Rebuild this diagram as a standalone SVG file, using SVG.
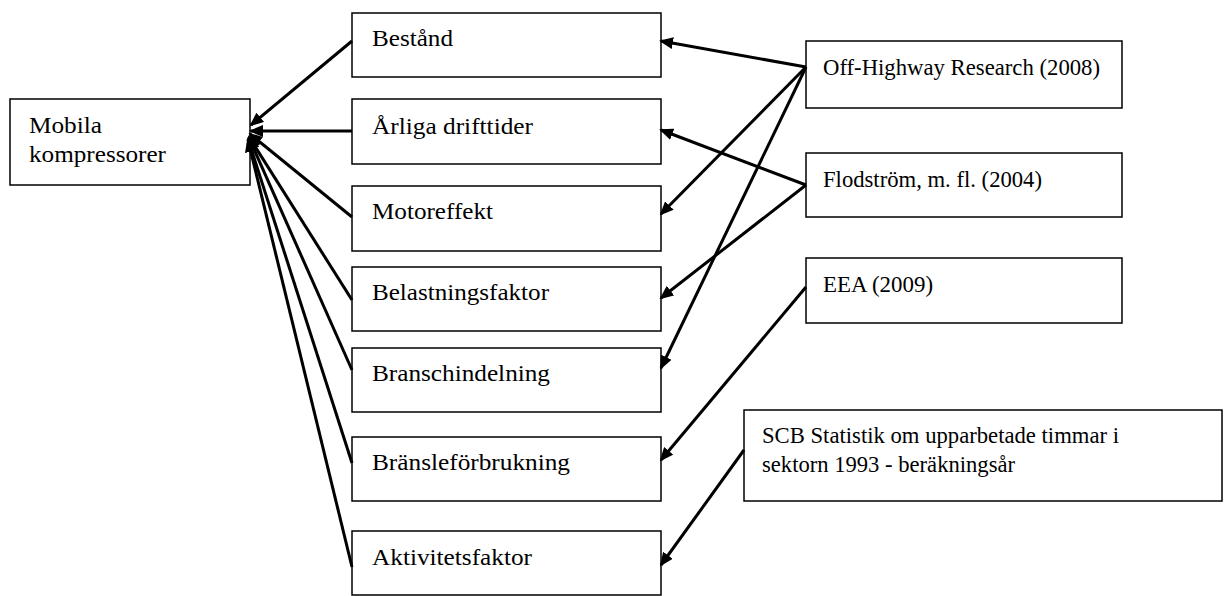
<svg xmlns="http://www.w3.org/2000/svg" width="1224" height="596" viewBox="0 0 1224 596">
  <style>
    .box { fill: #fff; stroke: #000; stroke-width: 1.5; }
    .lbl { font-family: "Liberation Serif", "Times New Roman", serif; font-size: 24px; fill: #000; }
    .link { stroke: #000; stroke-width: 3; fill: none; marker-end: url(#head); }
  </style>
  <defs>
    <marker id="head" markerUnits="userSpaceOnUse" markerWidth="14" markerHeight="12" refX="12" refY="6" orient="auto">
      <path d="M0,0 L14,6 L0,12 z" fill="#000"/>
    </marker>
  </defs>

  <rect width="1224" height="596" fill="#fff"/>

  <!-- target node -->
  <g id="mobila">
    <rect class="box" x="10" y="99" width="240" height="86"/>
    <text class="lbl" x="29" y="133" textLength="73" lengthAdjust="spacingAndGlyphs">Mobila</text>
    <text class="lbl" x="29" y="162" textLength="137" lengthAdjust="spacingAndGlyphs">kompressorer</text>
  </g>

  <!-- parameter nodes -->
  <g id="bestand">
    <rect class="box" x="352" y="13" width="309" height="64"/>
    <text class="lbl" x="372" y="46" textLength="81" lengthAdjust="spacingAndGlyphs">Bestånd</text>
  </g>
  <g id="arliga">
    <rect class="box" x="352" y="99" width="309" height="65"/>
    <text class="lbl" x="372" y="134" textLength="161" lengthAdjust="spacingAndGlyphs">Årliga drifttider</text>
  </g>
  <g id="motoreffekt">
    <rect class="box" x="352" y="186" width="309" height="65"/>
    <text class="lbl" x="372" y="219" textLength="121" lengthAdjust="spacingAndGlyphs">Motoreffekt</text>
  </g>
  <g id="belastning">
    <rect class="box" x="352" y="267" width="309" height="64"/>
    <text class="lbl" x="372" y="300" textLength="177" lengthAdjust="spacingAndGlyphs">Belastningsfaktor</text>
  </g>
  <g id="bransch">
    <rect class="box" x="352" y="348" width="309" height="64"/>
    <text class="lbl" x="372" y="381" textLength="178" lengthAdjust="spacingAndGlyphs">Branschindelning</text>
  </g>
  <g id="bransle">
    <rect class="box" x="352" y="437" width="309" height="64"/>
    <text class="lbl" x="372" y="470" textLength="198" lengthAdjust="spacingAndGlyphs">Bränsleförbrukning</text>
  </g>
  <g id="aktivitet">
    <rect class="box" x="352" y="531" width="309" height="64"/>
    <text class="lbl" x="372" y="565" textLength="160" lengthAdjust="spacingAndGlyphs">Aktivitetsfaktor</text>
  </g>

  <!-- source nodes -->
  <g id="offhighway">
    <rect class="box" x="806" y="41" width="316" height="67"/>
    <text class="lbl" x="823" y="75" textLength="277" lengthAdjust="spacingAndGlyphs">Off-Highway Research (2008)</text>
  </g>
  <g id="flodstrom">
    <rect class="box" x="806" y="153" width="316" height="64"/>
    <text class="lbl" x="823" y="187" textLength="219" lengthAdjust="spacingAndGlyphs">Flodström, m. fl. (2004)</text>
  </g>
  <g id="eea">
    <rect class="box" x="806" y="258" width="316" height="65"/>
    <text class="lbl" x="823" y="292" textLength="110" lengthAdjust="spacingAndGlyphs">EEA (2009)</text>
  </g>
  <g id="scb">
    <rect class="box" x="744" y="410" width="478" height="91"/>
    <text class="lbl" x="762" y="443" textLength="357" lengthAdjust="spacingAndGlyphs">SCB Statistik om upparbetade timmar i</text>
    <text class="lbl" x="762" y="472" textLength="253" lengthAdjust="spacingAndGlyphs">sektorn 1993 - beräkningsår</text>
  </g>

  <!-- connectors -->
  <g id="connectors">
    <!-- parameters into Mobila kompressorer -->
    <line class="link" x1="352" y1="41" x2="251" y2="125"/>
    <line class="link" x1="352" y1="131" x2="251" y2="131"/>
    <line class="link" x1="352" y1="217" x2="250" y2="134"/>
    <line class="link" x1="352" y1="300" x2="249" y2="137"/>
    <line class="link" x1="352" y1="370" x2="249" y2="138"/>
    <line class="link" x1="352" y1="463" x2="248" y2="139"/>
    <line class="link" x1="352" y1="567" x2="248" y2="140"/>

    <!-- sources into parameters -->
    <line class="link" x1="806" y1="67" x2="661" y2="41"/>
    <line class="link" x1="806" y1="67" x2="661" y2="214"/>
    <line class="link" x1="806" y1="67" x2="661" y2="368"/>
    <line class="link" x1="806" y1="185" x2="661" y2="130"/>
    <line class="link" x1="806" y1="185" x2="661" y2="298"/>
    <line class="link" x1="806" y1="287" x2="661" y2="460"/>
    <line class="link" x1="744" y1="450" x2="661" y2="565"/>
  </g>
</svg>
